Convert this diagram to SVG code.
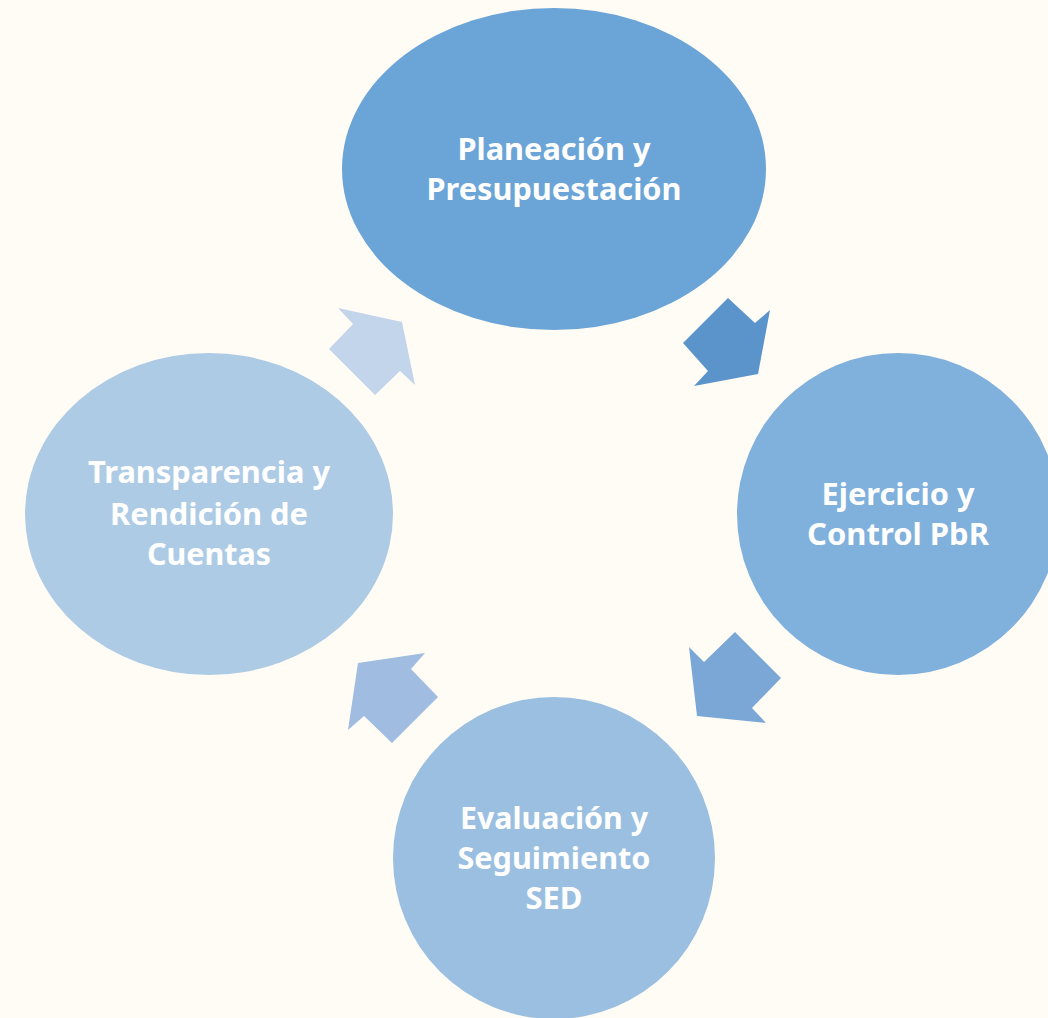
<svg xmlns="http://www.w3.org/2000/svg" width="1048" height="1018" viewBox="0 0 1048 1018">
<style>
.lbl{font-family:"Noto Sans","Open Sans","DejaVu Sans",sans-serif;font-weight:bold;font-size:31px;fill:#FFFFFF;text-anchor:middle}
</style>
<rect x="0" y="0" width="1048" height="1018" fill="#FFFCF5"/>
<g id="connectors">
<polygon id="arrow-1" points="728,298 755,323 770,310 758,374 694,386 708,371 683,343" fill="#5A94CB"/>
<polygon id="arrow-2" points="735,632 781,678 752,708 766,723 697,716 689,647 704,662" fill="#7AA7D5"/>
<polygon id="arrow-3" points="425,653 358,663 348,730 364,716 392,743 438,697 411,669" fill="#A0BCE0"/>
<polygon id="arrow-4" points="338,308 402,322 415,385 400,371 375,395 329,349 353,324" fill="#C3D5EB"/>
</g>
<g id="node-planeacion">
<ellipse cx="554" cy="169" rx="212" ry="161" fill="#6BA4D7"/>
<text class="lbl" x="554" y="160" textLength="193" lengthAdjust="spacingAndGlyphs">Planeación y</text>
<text class="lbl" x="554" y="200" textLength="255" lengthAdjust="spacingAndGlyphs">Presupuestación</text>
</g>
<g id="node-ejercicio">
<ellipse cx="898" cy="514" rx="161" ry="161" fill="#80B0DC"/>
<text class="lbl" x="898" y="505" textLength="153" lengthAdjust="spacingAndGlyphs">Ejercicio y</text>
<text class="lbl" x="898" y="545" textLength="182" lengthAdjust="spacingAndGlyphs">Control PbR</text>
</g>
<g id="node-evaluacion">
<ellipse cx="554" cy="858" rx="161" ry="161" fill="#9BBFE0"/>
<text class="lbl" x="554" y="829" textLength="188" lengthAdjust="spacingAndGlyphs">Evaluación y</text>
<text class="lbl" x="554" y="869" textLength="193" lengthAdjust="spacingAndGlyphs">Seguimiento</text>
<text class="lbl" x="554" y="909" textLength="57" lengthAdjust="spacingAndGlyphs">SED</text>
</g>
<g id="node-transparencia">
<ellipse cx="209" cy="514" rx="184" ry="161" fill="#AECBE5"/>
<text class="lbl" x="209" y="483" textLength="242" lengthAdjust="spacingAndGlyphs">Transparencia y</text>
<text class="lbl" x="209" y="525" textLength="198" lengthAdjust="spacingAndGlyphs">Rendición de</text>
<text class="lbl" x="209" y="565" textLength="124" lengthAdjust="spacingAndGlyphs">Cuentas</text>
</g>
</svg>
